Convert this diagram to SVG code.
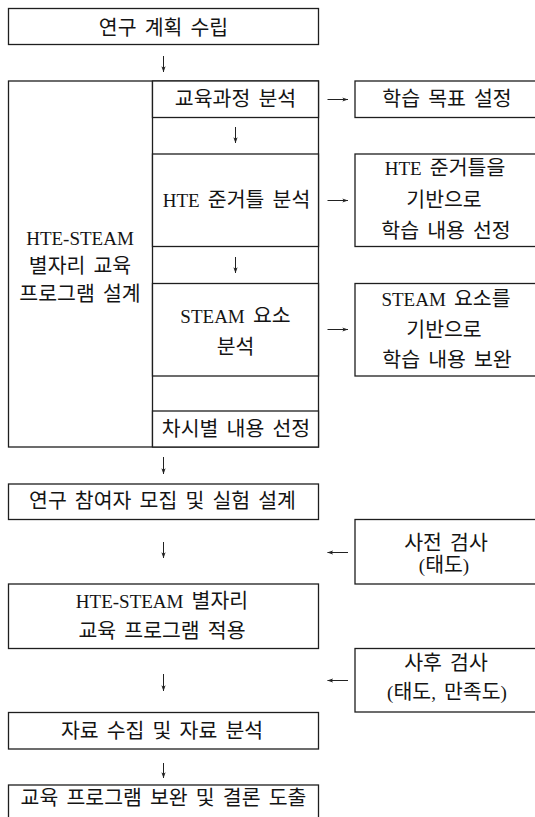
<svg xmlns="http://www.w3.org/2000/svg" width="535" height="817" viewBox="0 0 535 817">
<style>
.bx{fill:#fff;stroke:#1e1e1e;stroke-width:1.3}
.t{font-family:"Liberation Serif","Noto Sans CJK KR",serif;font-size:20.5px;fill:#141414;text-anchor:middle;dominant-baseline:central;word-spacing:3px}
.l{font-size:19px}
.c{stroke:#222;stroke-width:1;fill:none;marker-end:url(#ah)}
</style>
<defs>
<marker id="ah" viewBox="0 0 10 10" refX="9.5" refY="5" markerWidth="6" markerHeight="6" orient="auto" markerUnits="userSpaceOnUse">
<path d="M0,1.5 L10,5 L0,8.5 L2.5,5 Z" fill="#222"/>
</marker>
</defs>
<rect width="535" height="817" fill="#fff"/>
<g id="n-plan"><rect class="bx" x="8.5" y="8.5" width="310" height="36"/><text class="t" x="163.5" y="27.5">연구 계획 수립</text></g>
<g id="n-design"><rect class="bx" x="8.5" y="81" width="310" height="366"/><line x1="152.5" y1="81" x2="152.5" y2="447" stroke="#1e1e1e" stroke-width="1.3"/>
<text class="t" x="80" y="237.5"><tspan class="l">HTE-STEAM</tspan></text><text class="t" x="80" y="265.5">별자리 교육</text><text class="t" x="80" y="293.5">프로그램 설계</text></g>
<g id="n-curr"><rect class="bx" x="152.5" y="81" width="166" height="36.5"/><text class="t" x="235.5" y="98.5">교육과정 분석</text></g>
<g id="n-hte"><rect class="bx" x="152.5" y="154" width="166" height="92.5"/><text class="t" x="236.5" y="200"><tspan class="l">HTE</tspan> 준거틀 분석</text></g>
<g id="n-steam"><rect class="bx" x="152.5" y="283.5" width="166" height="92.5"/><text class="t" x="235.5" y="316"><tspan class="l">STEAM</tspan> 요소</text><text class="t" x="235.5" y="346.5">분석</text></g>
<g id="n-session"><rect class="bx" x="152.5" y="411" width="166" height="36"/><text class="t" x="236" y="428.5">차시별 내용 선정</text></g>
<g id="n-goal"><rect class="bx" x="355" y="81" width="200" height="36.5"/><text class="t" x="447" y="98.5">학습 목표 설정</text></g>
<g id="n-hte-content"><rect class="bx" x="355" y="154" width="200" height="92.5"/><text class="t" x="445" y="168"><tspan class="l">HTE</tspan> 준거틀을</text><text class="t" x="444" y="199.5">기반으로</text><text class="t" x="446" y="230.5">학습 내용 선정</text></g>
<g id="n-steam-content"><rect class="bx" x="355" y="283.5" width="200" height="92.5"/><text class="t" x="446" y="299"><tspan class="l">STEAM</tspan> 요소를</text><text class="t" x="444" y="329.5">기반으로</text><text class="t" x="447" y="359.5">학습 내용 보완</text></g>
<g id="n-recruit"><rect class="bx" x="8.5" y="484" width="310" height="35.5"/><text class="t" x="162.5" y="501">연구 참여자 모집 및 실험 설계</text></g>
<g id="n-pre"><rect class="bx" x="355" y="519.5" width="200" height="64.5"/><text class="t" x="446" y="542.5">사전 검사</text><text class="t" x="444" y="565"><tspan class="l">(</tspan>태도<tspan class="l">)</tspan></text></g>
<g id="n-apply"><rect class="bx" x="8.5" y="584" width="310" height="64.5"/><text class="t" x="162" y="600.5"><tspan class="l">HTE-STEAM</tspan> 별자리</text><text class="t" x="162" y="630.5">교육 프로그램 적용</text></g>
<g id="n-post"><rect class="bx" x="355" y="648.5" width="200" height="63.5"/><text class="t" x="446" y="662.5">사후 검사</text><text class="t" x="447" y="692"><tspan class="l">(</tspan>태도<tspan class="l">,</tspan> 만족도<tspan class="l">)</tspan></text></g>
<g id="n-data"><rect class="bx" x="8.5" y="712.5" width="310" height="36.5"/><text class="t" x="162" y="730.5">자료 수집 및 자료 분석</text></g>
<g id="n-final"><rect class="bx" x="8.5" y="785" width="310" height="40"/><text class="t" x="163.5" y="798">교육 프로그램 보완 및 결론 도출</text></g>
<g id="connectors">
<line class="c" x1="163.5" y1="56" x2="163.5" y2="72"/>
<line class="c" x1="235.5" y1="127" x2="235.5" y2="143"/>
<line class="c" x1="235.5" y1="257" x2="235.5" y2="273"/>
<line class="c" x1="327.5" y1="99.5" x2="348" y2="99.5"/>
<line class="c" x1="327.5" y1="200.5" x2="348" y2="200.5"/>
<line class="c" x1="327.5" y1="329.5" x2="348" y2="329.5"/>
<line class="c" x1="163.5" y1="457" x2="163.5" y2="474"/>
<line class="c" x1="163.5" y1="542" x2="163.5" y2="558"/>
<line class="c" x1="348" y1="552.5" x2="327.5" y2="552.5"/>
<line class="c" x1="163.5" y1="674" x2="163.5" y2="691"/>
<line class="c" x1="348" y1="680.5" x2="327.5" y2="680.5"/>
<line class="c" x1="163.5" y1="763" x2="163.5" y2="778"/>
</g>
</svg>
